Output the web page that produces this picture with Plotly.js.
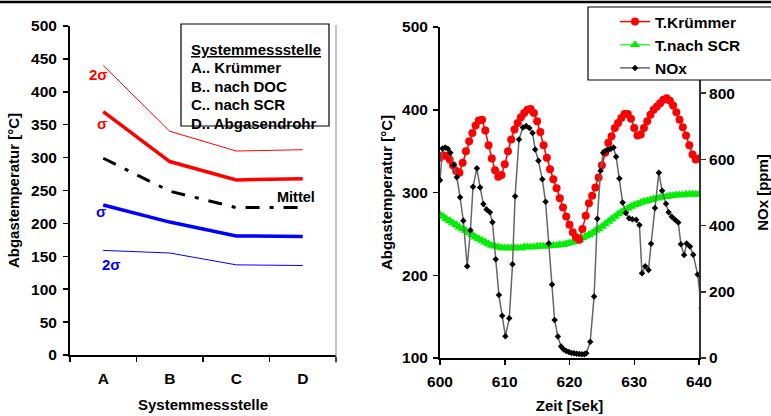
<!DOCTYPE html>
<html>
<head>
<meta charset="utf-8">
<script src="https://cdn.plot.ly/plotly-3.0.1.min.js"></script>
<style>html,body{margin:0;padding:0;background:#fff;}#chart{width:771px;height:416px;}</style>
</head>
<body>
<div id="chart"></div>
<script>
// ---------- Left chart data ----------
const stations = ['A', 'B', 'C', 'D'];
const upper2Sigma = [440, 340, 310, 312];
const upper1Sigma = [370, 294, 266, 268];
const meanTemp    = [299, 249, 224, 224];
const lower1Sigma = [228, 202, 181, 180];
const lower2Sigma = [159, 155, 137, 136];
const leftYTicks = [0, 50, 100, 150, 200, 250, 300, 350, 400, 450, 500];

// ---------- Right chart data ----------
const sampleStart = 600;
const sampleStep = 0.5;
const tKruemmer = [342,345,344,340,333,326,324,336,350,362,
                   372,381,387,388,375,357,341,327,319,321,
                   334,350,364,376,384,391,396,400,401,396,
                   386,373,357,342,328,316,305,293,282,271,
                   261,252,246,243,256,272,287,296,306,318,
                   333,348,360,368,378,384,390,395,395,389,
                   378,369,370,378,386,394,400,404,408,412,
                   414,411,405,397,388,379,369,357,346,340,341];
const tNachSCR = [273,271,268,266,263,261,258,256,254,251,
                  249,246,244,242,240,238,236,235,234,233,
                  233,233,233,233,233,233,234,234,234,234,
                  235,235,235,235,236,236,236,237,237,238,
                  239,240,241,243,245,247,249,251,254,256,
                  259,262,265,268,271,274,276,279,281,283,
                  285,286,288,289,290,291,292,293,294,295,
                  295,296,296,297,297,297,298,298,298,298,298];
const noxTime = [600.0,600.4,600.8,601.2,601.6,602.1,602.6,603.1,603.6,604.2,
                 604.7,605.1,605.7,606.2,606.7,607.2,607.7,608.1,608.6,609.1,
                 609.6,610.1,610.7,611.2,611.6,612.2,612.8,613.3,613.8,614.3,
                 614.7,615.2,615.8,616.3,616.8,617.3,617.7,618.2,618.7,619.1,
                 619.5,619.9,620.3,620.7,621.1,621.5,621.9,622.3,622.6,623.2,
                 623.8,624.3,624.8,625.2,625.6,626.0,626.4,626.8,627.2,627.7,
                 628.2,628.7,629.2,629.7,630.3,630.8,631.2,631.7,632.2,632.6,
                 633.2,633.8,634.3,634.9,635.3,635.8,636.3,636.8,637.2,637.7,
                 638.1,638.6,639.1,639.8,640.4];
const noxPpm = [537,633,636,632,620,583,546,486,415,277,
                386,517,573,515,465,449,440,410,298,190,
                128,66,120,283,489,660,696,701,695,680,
                630,596,540,472,346,222,115,65,35,26,
                21,18,15,14,13,12,11,11,14,49,
                186,421,566,620,626,629,632,636,608,542,
                470,438,422,419,418,402,256,277,266,345,
                453,560,505,466,440,427,418,409,344,311,
                346,337,312,252,150];
const rightXTicks = [600, 610, 620, 630, 640];
const tempTicks = [100, 200, 300, 400, 500];
const noxTicks = [0, 200, 400, 600, 800];

const sampleTime = tKruemmer.map((_, i) => sampleStart + i * sampleStep);

// ---------- helpers (pixel -> paper) ----------
const W = 771, H = 416;
const X = px => px / W;
const Y = py => 1 - py / H;
const FONT = 'Liberation Sans, Arial, sans-serif';
const f = (size, color) => ({family: FONT, size: size, color: color || '#000', weight: 700});

const traces = [
  {x: stations, y: upper2Sigma, xaxis: 'x', yaxis: 'y', mode: 'lines', showlegend: false,
   line: {color: '#ff0000', width: 1}, name: '+2σ'},
  {x: stations, y: upper1Sigma, xaxis: 'x', yaxis: 'y', mode: 'lines', showlegend: false,
   line: {color: '#ff0000', width: 3.5}, name: '+σ'},
  {x: stations, y: meanTemp, xaxis: 'x', yaxis: 'y', mode: 'lines', showlegend: false,
   line: {color: '#000000', width: 3, dash: '14px,10px,4px,10px'}, name: 'Mittel'},
  {x: stations, y: lower1Sigma, xaxis: 'x', yaxis: 'y', mode: 'lines', showlegend: false,
   line: {color: '#0000ff', width: 3.5}, name: '-σ'},
  {x: stations, y: lower2Sigma, xaxis: 'x', yaxis: 'y', mode: 'lines', showlegend: false,
   line: {color: '#0000ff', width: 1}, name: '-2σ'},

  {x: sampleTime, y: tNachSCR, xaxis: 'x2', yaxis: 'y2', mode: 'lines+markers', name: 'T.nach SCR',
   legendgroup: 'g2', legendrank: 2,
   line: {color: '#33ff33', width: 1.5}, marker: {symbol: 'triangle-up', size: 9, color: '#00ee00'}},
  {x: sampleTime, y: tKruemmer, xaxis: 'x2', yaxis: 'y2', mode: 'lines+markers', name: 'T.Krümmer',
   legendgroup: 'g1', legendrank: 1,
   line: {color: '#ff0000', width: 1.5}, marker: {symbol: 'circle', size: 8, color: '#ff0000'}},
  {x: noxTime, y: noxPpm, xaxis: 'x2', yaxis: 'y3', mode: 'lines+markers', name: 'NOx',
   legendgroup: 'g3', legendrank: 3,
   line: {color: '#666666', width: 1.5}, marker: {symbol: 'diamond', size: 5, color: '#000000'}}
];

const axisCommon = {
  showgrid: false, zeroline: false, showline: true, linecolor: '#000', linewidth: 2,
  ticks: 'outside', ticklen: 5, tickwidth: 1.5, tickcolor: '#000', automargin: false,
  tickfont: f(15.5), fixedrange: true
};

const layout = {
  width: W, height: H, autosize: false,
  margin: {l: 0, r: 0, t: 0, b: 0},
  paper_bgcolor: '#fff', plot_bgcolor: 'rgba(0,0,0,0)',
  font: f(15),
  xaxis: Object.assign({}, axisCommon, {
    domain: [X(70), X(336)], anchor: 'y', type: 'category',
    categoryorder: 'array', categoryarray: stations, range: [-0.5, 3.5],
    tickson: 'boundaries', ticklabelstandoff: 8,
    title: {text: 'Systemmessstelle', font: f(15), standoff: 14}
  }),
  yaxis: Object.assign({}, axisCommon, {
    domain: [Y(355), Y(26)], anchor: 'x', range: [0, 500], tickvals: leftYTicks,
    ticklabelstandoff: 3,
    title: {text: 'Abgastemperatur [°C]', font: f(15), standoff: 8}
  }),
  xaxis2: Object.assign({}, axisCommon, {
    domain: [X(440), X(699)], anchor: 'y2', range: [600, 640], tickvals: rightXTicks,
    ticklabelstandoff: 3,
    title: {text: 'Zeit [Sek]', font: f(15), standoff: 12}
  }),
  yaxis2: Object.assign({}, axisCommon, {
    domain: [Y(358), Y(27)], anchor: 'x2', range: [100, 500], tickvals: tempTicks,
    ticklabelstandoff: 2,
    title: {text: 'Abgastemperatur [°C]', font: f(15), standoff: 6}
  }),
  yaxis3: Object.assign({}, axisCommon, {
    overlaying: 'y2', side: 'right', anchor: 'x2', range: [0, 1000], tickvals: noxTicks,
    linecolor: '#333', tickcolor: '#333',
    title: {text: 'NOx [ppm]', font: f(15), standoff: 24}
  }),
  legend: {
    x: X(615), y: Y(5), xanchor: 'left', yanchor: 'top',
    bgcolor: 'rgba(0,0,0,0)', borderwidth: 0, font: f(15.5),
    traceorder: 'grouped', tracegroupgap: 0
  },
  shapes: [
    {type: 'line', xref: 'paper', yref: 'paper', x0: 0, x1: 1, y0: Y(2), y1: Y(2),
     line: {color: '#000', width: 2.5}, layer: 'above'},
    {type: 'line', xref: 'paper', yref: 'paper', x0: X(336), x1: X(336), y0: Y(25), y1: Y(363),
     line: {color: '#888', width: 1}, layer: 'above'},
    {type: 'rect', xref: 'paper', yref: 'paper', x0: X(181), x1: X(329), y0: Y(126), y1: Y(24),
     line: {color: '#000', width: 1.2}, fillcolor: '#fff', layer: 'above'},
    {type: 'rect', xref: 'paper', yref: 'paper', x0: X(588), x1: X(790), y0: Y(80), y1: Y(7),
     line: {color: '#000', width: 1.2}, fillcolor: '#fff', layer: 'above'}
  ],
  annotations: [
    {text: '2σ', xref: 'paper', yref: 'paper', x: X(87), y: Y(64), showarrow: false, font: f(15, '#ff0000')},
    {text: 'σ', xref: 'paper', yref: 'paper', x: X(95), y: Y(113), showarrow: false, font: f(15, '#ff0000')},
    {text: 'Mittel', xref: 'paper', yref: 'paper', x: X(296), y: Y(197), showarrow: false, font: f(14.5)},
    {text: 'σ', xref: 'paper', yref: 'paper', x: X(94), y: Y(211), showarrow: false, font: f(15, '#0000ff')},
    {text: '2σ', xref: 'paper', yref: 'paper', x: X(100), y: Y(264), showarrow: false, font: f(15, '#0000ff')},
    {text: '<u>Systemmessstelle</u>', xref: 'paper', yref: 'paper', x: X(189), y: Y(39), xanchor: 'left', showarrow: false, font: f(15)},
    {text: 'A.. Krümmer', xref: 'paper', yref: 'paper', x: X(189), y: Y(57), xanchor: 'left', showarrow: false, font: f(15)},
    {text: 'B.. nach DOC', xref: 'paper', yref: 'paper', x: X(189), y: Y(76), xanchor: 'left', showarrow: false, font: f(15)},
    {text: 'C.. nach SCR', xref: 'paper', yref: 'paper', x: X(189), y: Y(94), xanchor: 'left', showarrow: false, font: f(15)},
    {text: 'D.. Abgasendrohr', xref: 'paper', yref: 'paper', x: X(189), y: Y(113), xanchor: 'left', showarrow: false, font: f(15)}
  ]
};

Plotly.newPlot('chart', traces, layout, {staticPlot: true, displayModeBar: false});
</script>
</body>
</html>
